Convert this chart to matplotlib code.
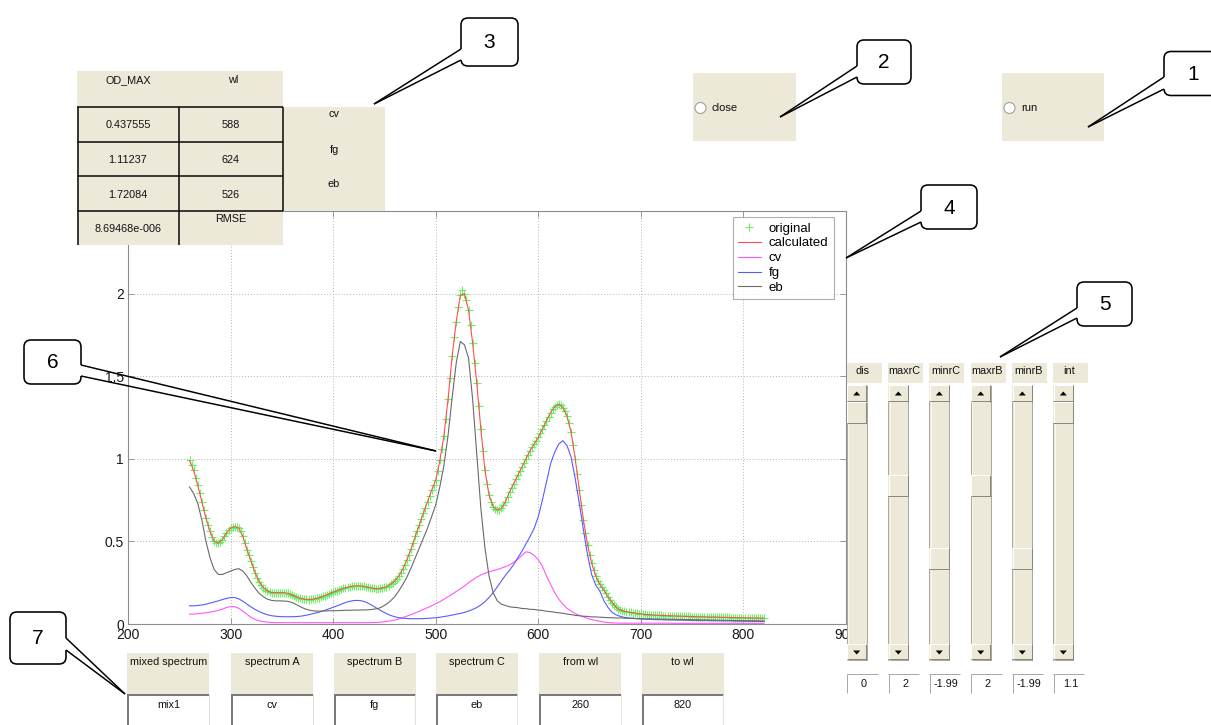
import numpy as np
import matplotlib
matplotlib.use("Agg")
import matplotlib.pyplot as plt
from matplotlib.patches import Rectangle, FancyBboxPatch, Polygon, Circle
from matplotlib.lines import Line2D
from matplotlib.transforms import Affine2D
from matplotlib.ticker import FuncFormatter

# ---------------- data ----------------
wavelength_fine = np.arange(260, 821, 2)   # sampling of the measured spectrum
wavelength = np.arange(260, 821, 4)        # sampling used for the fitted curves

original = [
    0.99, 0.965, 0.93, 0.885, 0.84, 0.79, 0.74, 0.69, 0.64, 0.60,
    0.56, 0.525, 0.50, 0.488, 0.49, 0.497, 0.51, 0.53, 0.55, 0.567,
    0.58, 0.588, 0.59, 0.588, 0.58, 0.56, 0.53, 0.49, 0.45, 0.415,
    0.38, 0.345, 0.31, 0.28, 0.255, 0.235, 0.22, 0.208, 0.20, 0.194,
    0.19, 0.19, 0.19, 0.19, 0.19, 0.19, 0.19, 0.188, 0.185, 0.18,
    0.175, 0.17, 0.165, 0.16, 0.155, 0.152, 0.15, 0.149, 0.148, 0.149,
    0.15, 0.152, 0.155, 0.159, 0.163, 0.167, 0.172, 0.177, 0.182, 0.187,
    0.192, 0.197, 0.202, 0.207, 0.212, 0.216, 0.22, 0.223, 0.226, 0.228,
    0.23, 0.231, 0.232, 0.231, 0.23, 0.228, 0.225, 0.222, 0.22, 0.217,
    0.215, 0.214, 0.214, 0.215, 0.218, 0.221, 0.225, 0.232, 0.24, 0.249,
    0.26, 0.273, 0.29, 0.31, 0.335, 0.36, 0.39, 0.42, 0.455, 0.49,
    0.53, 0.565, 0.60, 0.635, 0.67, 0.705, 0.74, 0.775, 0.81, 0.84,
    0.87, 0.925, 0.99, 1.06, 1.14, 1.24, 1.36, 1.49, 1.62, 1.74,
    1.83, 1.92, 1.99, 2.02, 2.00, 1.96, 1.90, 1.81, 1.70, 1.58,
    1.46, 1.32, 1.18, 1.05, 0.93, 0.845, 0.78, 0.74, 0.71, 0.695,
    0.69, 0.692, 0.70, 0.718, 0.74, 0.77, 0.80, 0.825, 0.85, 0.875,
    0.90, 0.925, 0.95, 0.975, 1.00, 1.025, 1.05, 1.07, 1.09, 1.11,
    1.13, 1.155, 1.18, 1.205, 1.23, 1.255, 1.28, 1.30, 1.315, 1.327,
    1.33, 1.323, 1.31, 1.29, 1.26, 1.215, 1.16, 1.085, 1.00, 0.905,
    0.81, 0.72, 0.63, 0.55, 0.48, 0.42, 0.37, 0.325, 0.29, 0.262,
    0.24, 0.222, 0.205, 0.185, 0.165, 0.147, 0.13, 0.114, 0.10, 0.092,
    0.085, 0.081, 0.077, 0.074, 0.072, 0.070, 0.068, 0.066, 0.064, 0.062,
    0.061, 0.059, 0.058, 0.057, 0.056, 0.055, 0.054, 0.054, 0.053, 0.052,
    0.052, 0.051, 0.051, 0.050, 0.050, 0.050, 0.049, 0.049, 0.048, 0.048,
    0.047, 0.047, 0.046, 0.046, 0.046, 0.045, 0.045, 0.045, 0.044, 0.044,
    0.044, 0.043, 0.043, 0.043, 0.042, 0.042, 0.042, 0.041, 0.041, 0.041,
    0.040, 0.040, 0.040, 0.040, 0.039, 0.039, 0.039, 0.039, 0.038, 0.038,
    0.038, 0.038, 0.037, 0.037, 0.037, 0.037, 0.036, 0.036, 0.036, 0.036,
    0.035]

calculated = [
    0.99, 0.93, 0.84, 0.74, 0.64, 0.56, 0.50, 0.49, 0.51, 0.55,
    0.58, 0.59, 0.58, 0.53, 0.45, 0.38, 0.31, 0.255, 0.22, 0.20,
    0.19, 0.19, 0.19, 0.19, 0.185, 0.175, 0.165, 0.155, 0.15, 0.148,
    0.15, 0.155, 0.163, 0.172, 0.182, 0.192, 0.202, 0.212, 0.22, 0.226,
    0.23, 0.232, 0.23, 0.225, 0.22, 0.215, 0.214, 0.218, 0.225, 0.24,
    0.26, 0.29, 0.335, 0.39, 0.455, 0.53, 0.60, 0.67, 0.74, 0.81,
    0.87, 0.99, 1.14, 1.36, 1.62, 1.83, 1.99, 2.00, 1.90, 1.70,
    1.46, 1.18, 0.93, 0.78, 0.71, 0.69, 0.70, 0.74, 0.80, 0.85,
    0.90, 0.95, 1.00, 1.05, 1.09, 1.13, 1.18, 1.23, 1.28, 1.315,
    1.33, 1.31, 1.26, 1.16, 1.00, 0.81, 0.63, 0.48, 0.37, 0.29,
    0.24, 0.205, 0.165, 0.13, 0.10, 0.085, 0.077, 0.072, 0.068, 0.064,
    0.061, 0.058, 0.056, 0.054, 0.053, 0.052, 0.051, 0.050, 0.049, 0.048,
    0.047, 0.046, 0.046, 0.045, 0.044, 0.044, 0.043, 0.042, 0.042, 0.041,
    0.040, 0.040, 0.039, 0.039, 0.038, 0.038, 0.037, 0.037, 0.036, 0.036,
    0.035]

cv = [
    0.06, 0.06, 0.062, 0.065, 0.068, 0.072, 0.076, 0.082, 0.09, 0.10,
    0.105, 0.105, 0.095, 0.078, 0.058, 0.04, 0.027, 0.019, 0.014, 0.011,
    0.009, 0.008, 0.008, 0.008, 0.008, 0.008, 0.008, 0.008, 0.008, 0.008,
    0.008, 0.008, 0.008, 0.008, 0.008, 0.008, 0.008, 0.008, 0.008, 0.008,
    0.008, 0.008, 0.008, 0.008, 0.008, 0.009, 0.010, 0.012, 0.015, 0.019,
    0.024, 0.031, 0.039, 0.048, 0.057, 0.067, 0.077, 0.088, 0.099, 0.11,
    0.122, 0.135, 0.15, 0.165, 0.18, 0.197, 0.213, 0.23, 0.25, 0.267,
    0.283, 0.297, 0.307, 0.316, 0.323, 0.33, 0.338, 0.347, 0.358, 0.373,
    0.392, 0.415, 0.437, 0.432, 0.415, 0.39, 0.35, 0.29, 0.24, 0.19,
    0.15, 0.12, 0.095, 0.078, 0.063, 0.052, 0.043, 0.034, 0.027, 0.021,
    0.016, 0.012, 0.009, 0.007, 0.006, 0.005, 0.005, 0.005, 0.005, 0.005,
    0.005, 0.005, 0.005, 0.005, 0.005, 0.005, 0.005, 0.005, 0.004, 0.004,
    0.004, 0.004, 0.004, 0.004, 0.004, 0.004, 0.004, 0.004, 0.004, 0.004,
    0.004, 0.004, 0.004, 0.004, 0.004, 0.004, 0.004, 0.004, 0.004, 0.004,
    0.004]

fg = [
    0.11, 0.11, 0.112, 0.115, 0.12, 0.127, 0.133, 0.14, 0.148, 0.155,
    0.16, 0.16, 0.152, 0.138, 0.12, 0.103, 0.088, 0.075, 0.064, 0.056,
    0.05, 0.047, 0.045, 0.044, 0.044, 0.044, 0.045, 0.047, 0.051, 0.056,
    0.062, 0.068, 0.075, 0.083, 0.092, 0.101, 0.11, 0.12, 0.13, 0.137,
    0.142, 0.143, 0.14, 0.132, 0.12, 0.105, 0.09, 0.076, 0.063, 0.052,
    0.044, 0.038, 0.035, 0.033, 0.032, 0.032, 0.032, 0.033, 0.034, 0.036,
    0.038, 0.041, 0.045, 0.049, 0.054, 0.059, 0.064, 0.07, 0.078, 0.088,
    0.10, 0.115, 0.135, 0.16, 0.19, 0.225, 0.26, 0.295, 0.325, 0.36,
    0.40, 0.44, 0.485, 0.53, 0.58, 0.65, 0.75, 0.86, 0.97, 1.04,
    1.09, 1.11, 1.08, 1.01, 0.88, 0.73, 0.57, 0.42, 0.30, 0.235,
    0.20, 0.14, 0.10, 0.07, 0.055, 0.046, 0.04, 0.037, 0.034, 0.032,
    0.030, 0.029, 0.028, 0.027, 0.026, 0.026, 0.025, 0.025, 0.024, 0.024,
    0.023, 0.023, 0.022, 0.022, 0.021, 0.021, 0.021, 0.020, 0.020, 0.020,
    0.019, 0.019, 0.019, 0.018, 0.018, 0.018, 0.017, 0.017, 0.017, 0.016,
    0.016]

eb = [
    0.83, 0.79, 0.73, 0.63, 0.50, 0.40, 0.33, 0.30, 0.30, 0.31,
    0.32, 0.33, 0.335, 0.32, 0.29, 0.25, 0.215, 0.185, 0.165, 0.15,
    0.143, 0.14, 0.14, 0.139, 0.137, 0.13, 0.118, 0.105, 0.093, 0.085,
    0.08, 0.078, 0.078, 0.079, 0.08, 0.08, 0.081, 0.082, 0.083, 0.083,
    0.084, 0.084, 0.085, 0.085, 0.087, 0.09, 0.094, 0.105, 0.12, 0.14,
    0.165, 0.20, 0.24, 0.285, 0.34, 0.40, 0.46, 0.52, 0.58, 0.65,
    0.72, 0.83, 0.96, 1.14, 1.37, 1.58, 1.71, 1.69, 1.61, 1.36,
    1.03, 0.70, 0.46, 0.29, 0.19, 0.14, 0.12, 0.112, 0.104, 0.101,
    0.099, 0.094, 0.093, 0.089, 0.088, 0.084, 0.082, 0.077, 0.075, 0.071,
    0.068, 0.065, 0.06, 0.057, 0.052, 0.050, 0.047, 0.046, 0.043, 0.043,
    0.041, 0.040, 0.038, 0.038, 0.036, 0.037, 0.035, 0.034, 0.035, 0.033,
    0.033, 0.031, 0.032, 0.030, 0.031, 0.029, 0.030, 0.028, 0.029, 0.027,
    0.028, 0.026, 0.027, 0.025, 0.026, 0.024, 0.025, 0.023, 0.024, 0.022,
    0.023, 0.021, 0.022, 0.020, 0.021, 0.019, 0.020, 0.019, 0.019, 0.018,
    0.018]

series_labels = ["original", "calculated", "cv", "fg", "eb"]
xticks = [200, 300, 400, 500, 600, 700, 800, 900]
yticks = [0, 0.5, 1.0, 1.5, 2.0, 2.5]

table_header = ["OD_MAX", "wl"]
table_od_max = ["0.437555", "1.11237", "1.72084"]
table_wl = ["588", "624", "526"]
table_names = ["cv", "fg", "eb"]
rmse_value = "8.69468e-006"
rmse_label = "RMSE"

slider_names = ["dis", "maxrC", "minrC", "maxrB", "minrB", "int"]
slider_values = ["0", "2", "-1.99", "2", "-1.99", "1.1"]
input_names = ["mixed spectrum", "spectrum A", "spectrum B", "spectrum C", "from wl", "to wl"]
input_values = ["mix1", "cv", "fg", "eb", "260", "820"]
button_names = ["close", "run"]

# ---------------- layout / style ----------------
W, H = 1211, 725
BEIGE = "#ECE9D8"
GUI_FONT = ["Liberation Sans", "DejaVu Sans"]

fig = plt.figure(figsize=(W / 100, H / 100), dpi=100)
fig.patch.set_facecolor("white")
# pixel coordinates, origin top-left
T = Affine2D().scale(1.0 / W, -1.0 / H).translate(0, 1) + fig.transFigure
PX = 0.72  # points per pixel


def rect(x0, y0, x1, y1, fc, ec="none", lw=0.0, z=2):
    fig.add_artist(Rectangle((x0, y0), x1 - x0, y1 - y0, transform=T,
                             facecolor=fc, edgecolor=ec, linewidth=lw, zorder=z))


def line(xs, ys, color="black", lw=1.0, z=3):
    fig.add_artist(Line2D(xs, ys, transform=T, color=color,
                          linewidth=lw * PX, zorder=z, solid_capstyle="butt"))


def text(x, y, s, size=7.8, ha="center", va="center", z=5, color="#111111"):
    fig.text(x, y, s, transform=T, fontsize=size, ha=ha, va=va, zorder=z,
             family=GUI_FONT, color=color)


def bevel(x0, y0, x1, y1, z=3):
    rect(x0, y0, x1, y1, BEIGE, z=z)
    line([x0, x1], [y0 + 0.5, y0 + 0.5], "#ffffff", 1, z + 0.1)
    line([x0 + 0.5, x0 + 0.5], [y0, y1], "#ffffff", 1, z + 0.1)
    line([x0, x1], [y1 - 0.5, y1 - 0.5], "#8a887c", 1, z + 0.1)
    line([x1 - 0.5, x1 - 0.5], [y0, y1], "#8a887c", 1, z + 0.1)


def callout(box, label, base1, base2, tip):
    x0, y0, x1, y1 = box
    fig.add_artist(FancyBboxPatch((x0, y0), x1 - x0, y1 - y0,
                                  boxstyle="round,pad=0,rounding_size=7",
                                  transform=T, facecolor="white", edgecolor="black",
                                  linewidth=1.6 * PX, zorder=20))
    dx = 3 if abs(base1[0] - x0) < 1 else -3
    fig.add_artist(Polygon([(base1[0] + dx, base1[1]), (base1[0] - dx, base1[1]),
                            (base2[0] - dx, base2[1]), (base2[0] + dx, base2[1])],
                           closed=True, transform=T, facecolor="white",
                           edgecolor="none", zorder=21))
    line([base1[0], tip[0]], [base1[1], tip[1]], "black", 1.5, 22)
    line([base2[0], tip[0]], [base2[1], tip[1]], "black", 1.5, 22)
    fig.text((x0 + x1) / 2, (y0 + y1) / 2 + 1, label, transform=T, fontsize=15,
             ha="center", va="center", zorder=23, family=GUI_FONT, color="black")


# ---------------- main axes ----------------
ax = fig.add_axes([128 / W, 1 - 624 / H, 718 / W, 413 / H])
ax.set_facecolor("white")
ax.plot(wavelength_fine, original, linestyle="none", marker="+", markersize=6,
        markeredgewidth=0.8, color="#66f266", label=series_labels[0], zorder=2)
ax.plot(wavelength, calculated, color="#ff5050", lw=0.8, label=series_labels[1], zorder=3)
ax.plot(wavelength, cv, color="#ff55ff", lw=0.8, label=series_labels[2], zorder=3)
ax.plot(wavelength, fg, color="#5a5aff", lw=0.8, label=series_labels[3], zorder=3)
ax.plot(wavelength, eb, color="#6a6a6a", lw=0.8, label=series_labels[4], zorder=3)

ax.set_xlim(200, 900)
ax.set_ylim(0, 2.5)
ax.set_xticks(xticks)
ax.set_yticks(yticks)
ax.yaxis.set_major_formatter(FuncFormatter(lambda v, p: "%g" % v))
ax.grid(True, color="#b4b4b4", linestyle=(0, (1, 2)), linewidth=0.7)
ax.set_axisbelow(True)
for sp in ax.spines.values():
    sp.set_color("#8c8c8c")
    sp.set_linewidth(0.8)
ax.tick_params(direction="in", length=4, width=0.6, color="#8c8c8c",
               top=True, right=True, labelsize=10, labelcolor="#1a1a1a", pad=3)
for lab in ax.get_xticklabels() + ax.get_yticklabels():
    lab.set_family(GUI_FONT)

leg = ax.legend(loc="upper left", bbox_to_anchor=(733, 217), bbox_transform=T,
                borderaxespad=0, frameon=True, fancybox=False,
                handlelength=1.7, handletextpad=0.6, labelspacing=0.2,
                borderpad=0.4, prop={"family": GUI_FONT, "size": 9.5})
leg.get_frame().set_edgecolor("#9a9a9a")
leg.get_frame().set_linewidth(0.8)
leg.set_zorder(10)

# ---------------- top-left table ----------------
rect(77, 71, 283, 107, BEIGE, z=4)
text(128, 80, table_header[0])
text(233, 80, table_header[1])
rect(77, 107, 283, 245, BEIGE, z=4)
rect(283, 107, 385, 211, BEIGE, z=4)
row_y = [107, 142, 176, 211]
for yy in row_y:
    line([77, 283], [yy, yy], "#111111", 1.6, 5)
line([77.5, 77.5], [107, 245], "#111111", 1.6, 5)
line([179, 179], [107, 245], "#111111", 1.6, 5)
line([283, 283], [107, 211], "#111111", 1.6, 5)
for i in range(3):
    yc = (row_y[i] + row_y[i + 1]) / 2 + 1
    text(128, yc, table_od_max[i])
    text(231, yc, table_wl[i])
for i, yy in enumerate([114, 150, 184]):
    text(334, yy, table_names[i])
text(128, 229, rmse_value)
text(231, 219, rmse_label)

# ---------------- close / run ----------------
for name, (x0, x1) in zip(button_names, [(693, 796), (1002, 1104)]):
    rect(x0, 73, x1, 141, BEIGE, z=4)
    fig.add_artist(Circle((x0 + 7.5, 108), 5.5, transform=T, facecolor="white",
                          edgecolor="#a0a0a0", linewidth=0.8, zorder=5))
    text(x0 + 19, 108, name, ha="left", size=8)

# ---------------- sliders ----------------
slider_left = [846.7, 888.3, 929.3, 970.7, 1012.3, 1053.3]
thumb_top = [402, 475, 548, 475, 548, 402]
for i, x0 in enumerate(slider_left):
    rect(x0, 363, x0 + 35, 383, BEIGE, z=4)
    text(x0 + 16, 371, slider_names[i])
    rect(x0, 385, x0 + 20, 660, "#ECE9D8", ec="#aaa79a", lw=0.7, z=4)
    line([x0 + 1.5, x0 + 1.5], [385, 660], "#f7f6f1", 1, 4.5)
    bevel(x0, 385, x0 + 20, 402, z=5)
    bevel(x0, 644, x0 + 20, 660, z=5)
    cx = x0 + 10
    fig.add_artist(Polygon([(cx - 3.5, 395.5), (cx + 3.5, 395.5), (cx, 391.5)], closed=True,
                           transform=T, facecolor="black", edgecolor="none", zorder=6))
    fig.add_artist(Polygon([(cx - 3.5, 650.5), (cx + 3.5, 650.5), (cx, 654.5)], closed=True,
                           transform=T, facecolor="black", edgecolor="none", zorder=6))
    bevel(x0, thumb_top[i], x0 + 20, thumb_top[i] + 21.5, z=5)
    rect(x0, 674, x0 + 31, 693, "white", z=4)
    line([x0, x0 + 31], [674.5, 674.5], "#a8a8a8", 1, 5)
    line([x0 + 0.5, x0 + 0.5], [674, 693], "#a8a8a8", 1, 5)
    text(x0 + 17, 684, slider_values[i])

# ---------------- bottom inputs ----------------
input_left = [127.4, 231.0, 333.6, 435.6, 539.4, 641.8]
for i, x0 in enumerate(input_left):
    rect(x0, 653, x0 + 82, 694, BEIGE, z=4)
    text(x0 + 41, 662, input_names[i])
    rect(x0, 694, x0 + 82, 730, "white", z=4)
    line([x0, x0 + 82], [695, 695], "#7a7a7a", 2, 5)
    line([x0 + 1, x0 + 1], [694, 730], "#7a7a7a", 2, 5)
    line([x0 + 81.5, x0 + 81.5], [694, 730], "#e4e2d8", 1, 5)
    text(x0 + 41, 705, input_values[i])

# ---------------- callouts ----------------
callout((1164, 51.5, 1222, 95.5), "1", (1164, 77), (1164, 89), (1088, 127))
callout((857, 40, 911, 84), "2", (857, 66), (857, 77), (780, 117))
callout((461, 18, 518, 66), "3", (461, 49), (461, 60), (374, 104))
callout((921, 185, 977, 229), "4", (921, 211), (921, 222), (846, 258))
callout((1077, 282, 1132, 326), "5", (1077, 308), (1077, 318), (1000, 357))
callout((24, 340, 81, 384), "6", (81, 365), (81, 376), (436, 451))
callout((10, 612, 66, 664), "7", (66, 638), (66, 650), (125, 694))

fig.savefig("out.png", dpi=100, facecolor="white")
